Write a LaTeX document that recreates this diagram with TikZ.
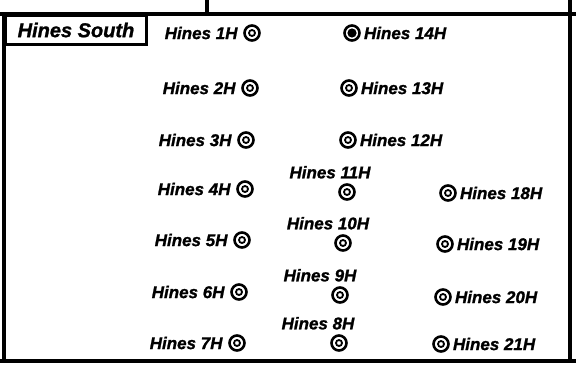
\documentclass[tikz,border=0pt]{standalone}
\usepackage{fontspec}
\setmainfont{Liberation Sans}[BoldItalicFeatures={FakeBold=1.2}]
\usetikzlibrary{positioning}
\tikzset{
  every picture/.style={font=\bfseries\itshape, line width=3.4pt},
  well/.style={circle, draw, line width=2.6pt, minimum size=15pt, inner sep=0pt,
    path picture={\draw[line width=1.8pt] (path picture bounding box.center) circle (3pt);}},
  wellon/.style={circle, draw, line width=2.6pt, minimum size=15pt, inner sep=0pt,
    path picture={\fill (path picture bounding box.center) circle (4.6pt);}},
  lbl/.style={inner sep=0pt, font=\fontsize{17}{19}\selectfont\bfseries\itshape},
}
\begin{document}
\begin{tikzpicture}[x=1pt, y=-1pt]
  \useasboundingbox (0,0) rectangle (576,367);
  % frame
  \draw (0,14) -- (576,14);
  \draw (207,0) -- (207,14);
  \draw (570,0) -- (570,361);
  \draw (4,14) -- (4,361);
  \draw (0,361) -- (576,361);
  \node[draw, line width=3pt, anchor=north west, minimum width=141pt, minimum height=29pt,
        inner sep=0pt, font=\fontsize{20}{22}\selectfont\bfseries\itshape] (area) at (4,14) {Hines South};
  % left column, labels on the left
  \foreach \n/\x/\y in {1/252/33, 2/250/88, 3/246/140, 4/245/189, 5/242/240, 6/239/292, 7/237/343}{
    \node[well] (w\n) at (\x,\y) {};
    \node[lbl, left=4pt of w\n] (t\n) {Hines \n H};
  }
  % middle column, top three labels on the right
  \node[wellon] (w14) at (352,33) {};
  \node[lbl, right=1.5pt of w14] (t14) {Hines 14H};
  \foreach \n/\x/\y in {13/349/88, 12/348/140}{
    \node[well] (w\n) at (\x,\y) {};
    \node[lbl, right=1.5pt of w\n] (t\n) {Hines \n H};
  }
  % middle column, labels above
  \foreach \n/\x/\y/\s in {11/347/192/-17, 10/343/243/-15, 9/340/295/-20, 8/339/343/-21}{
    \node[well] (w\n) at (\x,\y) {};
    \node[lbl, above=3pt of w\n, xshift=\s pt] (t\n) {Hines \n H};
  }
  % right column
  \foreach \n/\x/\y in {18/448/193, 19/445/244, 20/443/297, 21/441/344}{
    \node[well] (w\n) at (\x,\y) {};
    \node[lbl, right=1.5pt of w\n] (t\n) {Hines \n H};
  }
\end{tikzpicture}
\end{document}
